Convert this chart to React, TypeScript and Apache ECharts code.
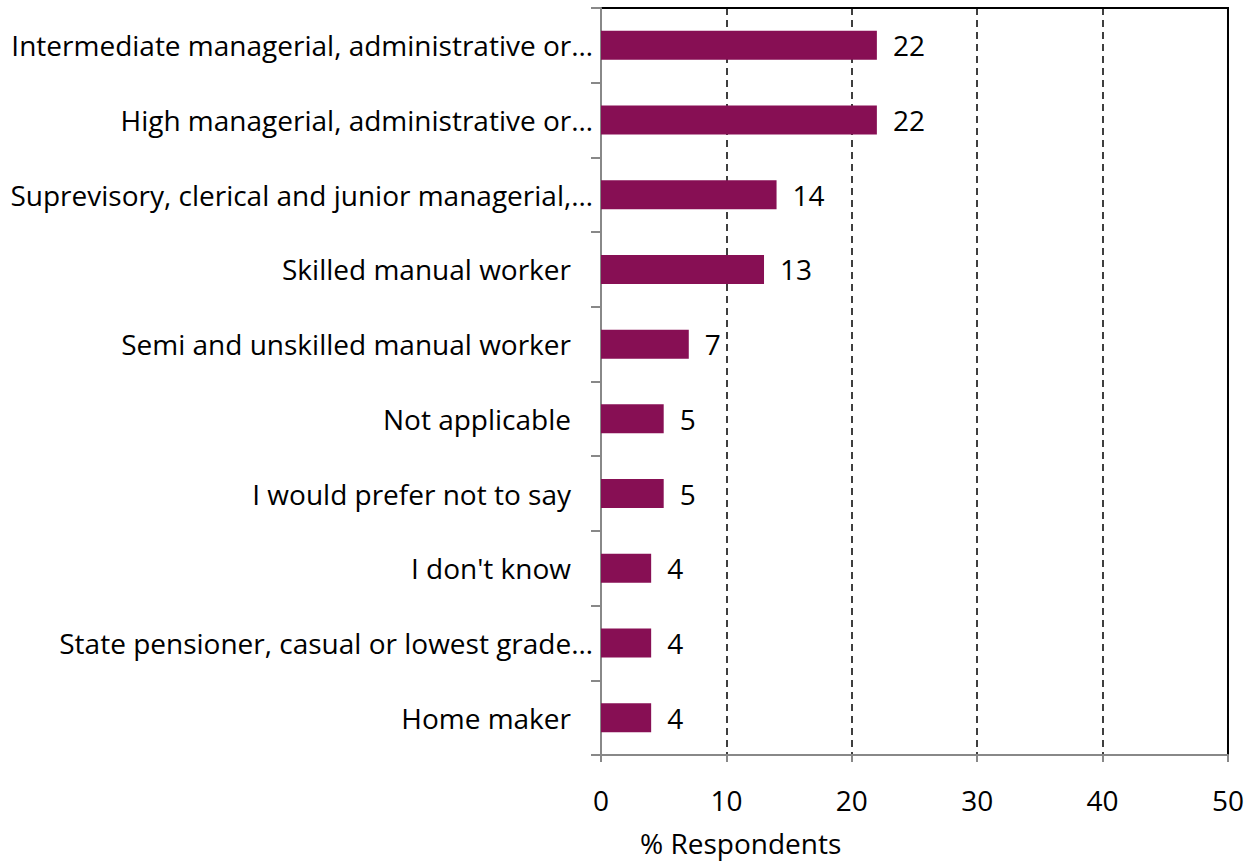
import React, { useEffect, useRef } from "react";
import * as echarts from "echarts";

const categories = [
  "Intermediate managerial, administrative or…",
  "High managerial, administrative or…",
  "Suprevisory, clerical and junior managerial,…",
  "Skilled manual worker",
  "Semi and unskilled manual worker",
  "Not applicable",
  "I would prefer not to say",
  "I don't know",
  "State pensioner, casual or lowest grade…",
  "Home maker",
];
const values = [22, 22, 14, 13, 7, 5, 5, 4, 4, 4];
const xMin = 0;
const xMax = 50;
const xInterval = 10;
const xAxisTitle = "% Respondents";

const FONT = "'Open Sans', 'Noto Sans', sans-serif";
const FS = 28;

export default function App() {
  const ref = useRef<HTMLDivElement>(null);
  useEffect(() => {
    if (!ref.current) return;
    const chart = echarts.init(ref.current, null, { renderer: "svg" });
    chart.setOption({
      animation: false,
      textStyle: { fontFamily: FONT },
      grid: {
        left: 601,
        top: 8,
        right: 19,
        bottom: 109,
        show: true,
        borderColor: "#000",
        borderWidth: 2,
        containLabel: false,
      },
      xAxis: {
        type: "value",
        min: xMin,
        max: xMax,
        interval: xInterval,
        axisLine: { show: true, lineStyle: { color: "#888", width: 2 } },
        axisTick: { show: true, length: 7, lineStyle: { color: "#888", width: 2 } },
        axisLabel: { fontSize: FS, color: "#000", margin: 31, fontFamily: FONT },
        splitLine: {
          show: true,
          lineStyle: { color: "#000", type: [7, 5], width: 1.5 },
        },
      },
      yAxis: {
        type: "category",
        inverse: true,
        data: categories,
        axisLine: { show: true, lineStyle: { color: "#888", width: 2 } },
        axisTick: { show: true, length: 10, lineStyle: { color: "#888", width: 2 } },
        axisLabel: {
          color: "#000",
          fontSize: FS,
          margin: 8,
          fontFamily: FONT,
          formatter: (v: string) =>
            v.endsWith("…") ? `{t|${v}}` : `{p|${v}}`,
          rich: {
            t: { fontSize: FS, color: "#000", fontFamily: FONT },
            p: { fontSize: FS, color: "#000", fontFamily: FONT, padding: [0, 22, 0, 0] },
          },
        },
        splitLine: { show: false },
      },
      series: [
        {
          type: "bar",
          data: values,
          barWidth: 29,
          itemStyle: { color: "#870F54" },
          label: {
            show: true,
            position: "right",
            distance: 16,
            fontSize: FS,
            color: "#000",
            fontFamily: FONT,
          },
        },
      ],
      graphic: [
        {
          type: "text",
          left: 640,
          top: 829,
          style: { text: xAxisTitle, fontSize: FS, fill: "#000", fontFamily: FONT },
        },
      ],
    });
    return () => chart.dispose();
  }, []);
  return <div ref={ref} style={{ width: 1247, height: 864, position: "absolute", left: 0, top: 0 }} />;
}
